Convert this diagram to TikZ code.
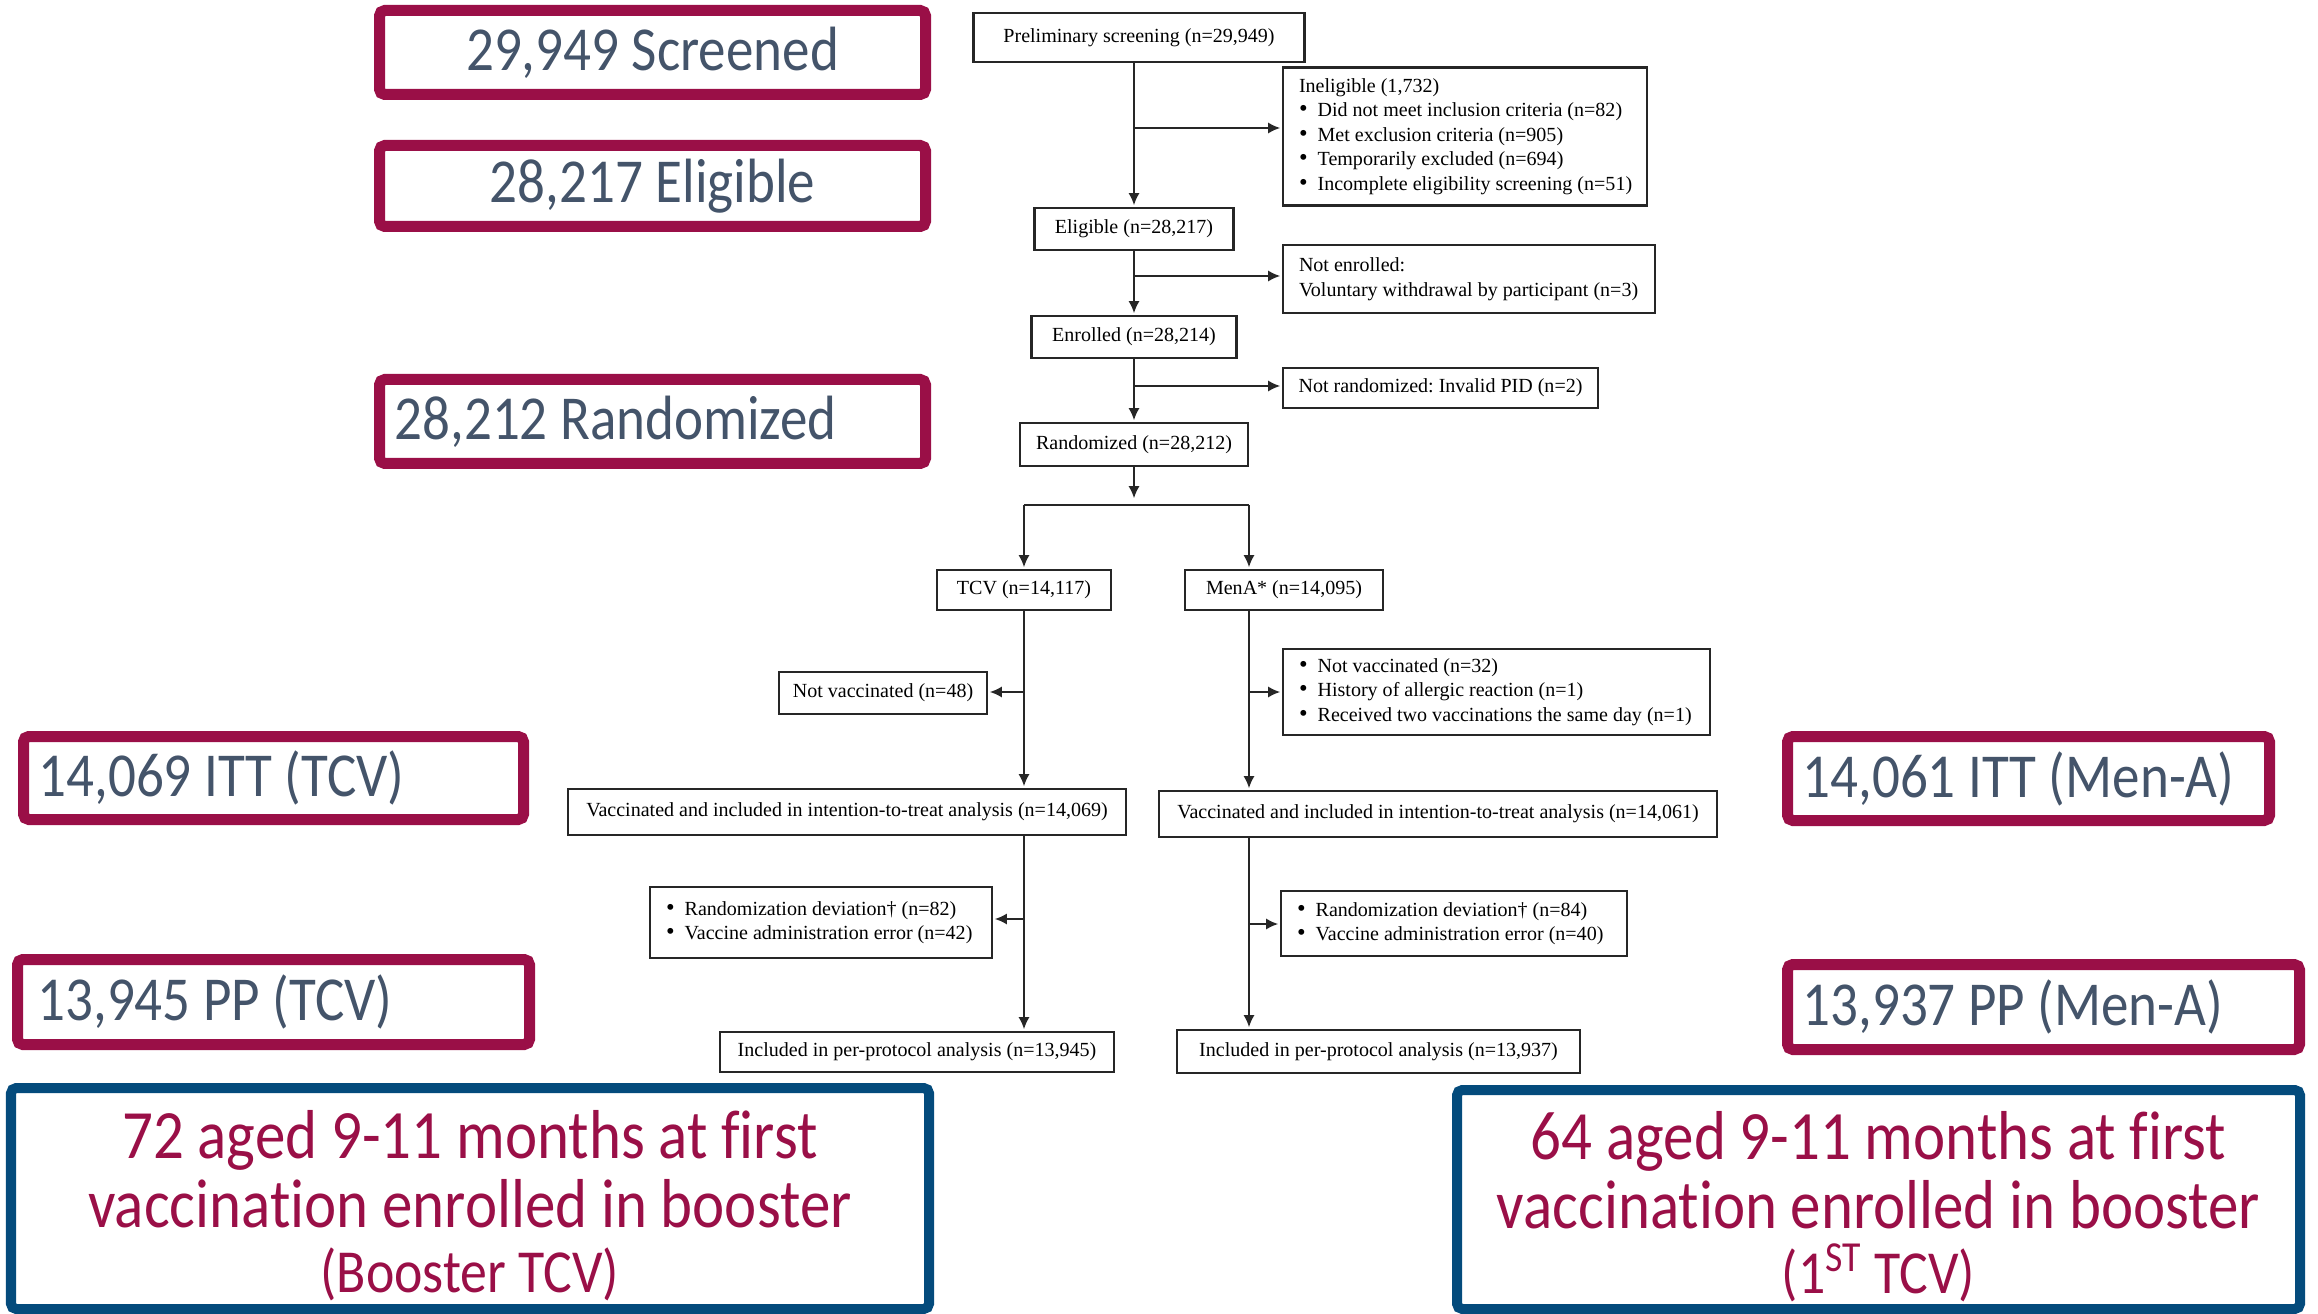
\documentclass[tikz,border=0pt]{standalone}
\usepackage{fontspec}
\usetikzlibrary{arrows.meta}
\newfontfamily\flowfont{Liberation Serif}
\newfontfamily\slidefont{Carlito}[FakeStretch=0.88, Ligatures=NoCommon]
\newcommand{\flowtxt}{\flowfont\fontsize{5.7}{7}\selectfont\frenchspacing}
\newcommand{\slidetxt}{\slidefont\fontsize{17.8}{20}\selectfont}
\newcommand{\boosttxt}{\slidefont\fontsize{19.7}{19.6}\selectfont}
\newcommand{\bul}[1]{\mbox{{\fontsize{7}{7}\selectfont\textbullet}\hspace{0.5em}#1}}
\definecolor{slidered}{HTML}{9A0F47}
\definecolor{slideblue}{HTML}{044B7C}
\definecolor{slate}{HTML}{44546A}

\begin{document}
\begin{tikzpicture}[
    flowbox/.style={draw=black!85, line width=0.6pt, font=\flowtxt, inner sep=0pt, fill=white},
    listbox/.style={flowbox, align=flush left, inner xsep=0.16cm},
    redbox/.style={draw=slidered, line width=0.11cm, rounded corners=1.5pt, font=\slidetxt, text=slate, inner sep=0pt},
    leftred/.style={redbox, align=flush left, inner xsep=0.15cm},
    bluebox/.style={draw=slideblue, line width=0.1cm, rounded corners=1.5pt, font=\boosttxt, text=slidered, align=center, inner sep=0pt},
    arr/.style={-{Latex[length=0.12cm,width=0.11cm]}, line width=0.45pt, black!85, shorten >=0.5pt},
    link/.style={line width=0.45pt, black!85}
]
    \useasboundingbox (0,0) rectangle (23.18,-13.14);

    % Screening column
    \node[flowbox, minimum width=3.31cm, minimum height=0.49cm] (prelim) at (11.39,-0.375) {Preliminary screening (n=29,949)};
    \node[listbox, text width=3.32cm, minimum height=1.38cm] (inel) at (14.65,-1.365)
        {Ineligible (1,732)\\
         \bul{Did not meet inclusion criteria (n=82)}\\
         \bul{Met exclusion criteria (n=905)}\\
         \bul{Temporarily excluded (n=694)}\\
         \bul{Incomplete eligibility screening (n=51)}};
    \node[flowbox, minimum width=1.99cm, minimum height=0.42cm] (elig) at (11.34,-2.29) {Eligible (n=28,217)};
    \node[listbox, text width=3.40cm, minimum height=0.68cm] (notenr) at (14.69,-2.79)
        {Not enrolled:\\\mbox{Voluntary withdrawal by participant (n=3)}};
    \node[flowbox, minimum width=2.05cm, minimum height=0.42cm] (enr) at (11.34,-3.37) {Enrolled (n=28,214)};
    \node[flowbox, minimum width=3.15cm, minimum height=0.40cm] (notrand) at (14.405,-3.88) {Not randomized: Invalid PID (n=2)};
    \node[flowbox, minimum width=2.28cm, minimum height=0.43cm] (rand) at (11.34,-4.445) {Randomized (n=28,212)};

    % Study arms
    \node[flowbox, minimum width=1.74cm, minimum height=0.40cm] (tcv) at (10.24,-5.90) {TCV (n=14,117)};
    \node[flowbox, minimum width=1.98cm, minimum height=0.40cm] (mena) at (12.84,-5.90) {MenA* (n=14,095)};
    \node[flowbox, minimum width=2.08cm, minimum height=0.42cm] (novacT) at (8.83,-6.93) {Not vaccinated (n=48)};
    \node[listbox, text width=3.95cm, minimum height=0.86cm] (novacM) at (14.965,-6.92)
        {\bul{Not vaccinated (n=32)}\\
         \bul{History of allergic reaction (n=1)}\\
         \bul{Received two vaccinations the same day (n=1)}};
    \node[flowbox, minimum width=5.58cm, minimum height=0.46cm] (ittT) at (8.47,-8.12) {Vaccinated and included in intention-to-treat analysis (n=14,069)};
    \node[flowbox, minimum width=5.58cm, minimum height=0.46cm] (ittM) at (14.38,-8.14) {Vaccinated and included in intention-to-treat analysis (n=14,061)};
    \node[listbox, text width=3.10cm, minimum height=0.71cm] (devT) at (8.21,-9.225)
        {\bul{Randomization deviation\textdagger\ (n=82)}\\
         \bul{Vaccine administration error (n=42)}};
    \node[listbox, text width=3.14cm, minimum height=0.65cm] (devM) at (14.54,-9.235)
        {\bul{Randomization deviation\textdagger\ (n=84)}\\
         \bul{Vaccine administration error (n=40)}};
    \node[flowbox, minimum width=3.94cm, minimum height=0.40cm] (ppT) at (9.17,-10.52) {Included in per-protocol analysis (n=13,945)};
    \node[flowbox, minimum width=4.03cm, minimum height=0.43cm] (ppM) at (13.785,-10.515) {Included in per-protocol analysis (n=13,937)};

    % Branch points
    \coordinate (b1) at (11.34,-1.28);
    \coordinate (b2) at (11.34,-2.76);
    \coordinate (b3) at (11.34,-3.86);
    \coordinate (split) at (11.34,-5.00);
    \coordinate (brL) at (10.24,-5.05);
    \coordinate (brR) at (12.49,-5.05);
    \coordinate (t1) at (10.24,-6.92);
    \coordinate (m1) at (12.49,-6.92);
    \coordinate (t2) at (10.24,-9.19);
    \coordinate (m2) at (12.49,-9.24);

    % Connectors
    \draw[arr] (prelim.south -| elig.north) -- (elig.north);
    \draw[arr] (b1) -- (b1 -| inel.west);
    \draw[arr] (elig.south) -- (enr.north);
    \draw[arr] (b2) -- (b2 -| notenr.west);
    \draw[arr] (enr.south) -- (rand.north);
    \draw[arr] (b3) -- (b3 -| notrand.west);
    \draw[arr] (rand.south) -- (split);
    \draw[link] (brL) -- (brR);
    \draw[arr] (brL) -- (brL |- tcv.north);
    \draw[arr] (brR) -- (brR |- mena.north);
    \draw[arr] (tcv.south) -- (tcv.south |- ittT.north);
    \draw[arr] (t1) -- (t1 -| novacT.east);
    \draw[arr] (brR |- mena.south) -- (brR |- ittM.north);
    \draw[arr] (m1) -- (m1 -| novacM.west);
    \draw[arr] (tcv.south |- ittT.south) -- (tcv.south |- ppT.north);
    \draw[arr] (t2) -- (t2 -| devT.east);
    \draw[arr] (brR |- ittM.south) -- (brR |- ppM.north);
    \draw[arr] (m2) -- (m2 -| devM.west);

    % Summary boxes
    \node[redbox, minimum width=5.46cm, minimum height=0.84cm] (scr) at (6.525,-0.525) {29,949 Screened};
    \node[redbox, minimum width=5.46cm, minimum height=0.81cm] (eli) at (6.525,-1.86) {28,217 Eligible};
    \node[leftred, text width=5.16cm, minimum height=0.84cm] (ran) at (6.525,-4.215) {28,212 Randomized};
    \node[leftred, text width=4.70cm, minimum height=0.83cm] (ittTsum) at (2.735,-7.78) {14,069 ITT (TCV)};
    \node[leftred, text width=4.72cm, inner xsep=0.2cm, minimum height=0.85cm] (ppTsum) at (2.735,-10.02) {13,945 PP (TCV)};
    \node[leftred, text width=4.52cm, minimum height=0.84cm] (ittMsum) at (20.285,-7.785) {14,061 ITT (Men-A)};
    \node[leftred, text width=4.82cm, minimum height=0.85cm] (ppMsum) at (20.435,-10.07) {13,937 PP (Men-A)};

    % Booster boxes
    \node[bluebox, minimum width=9.18cm, minimum height=2.21cm] (boostT) at (4.70,-11.985)
        {\rule{0pt}{0.9em}72 aged 9-11 months at first\\vaccination enrolled in booster\\[-1.1pt]{\fontsize{17.4}{18}\selectfont(Booster TCV)}};
    \node[bluebox, minimum width=8.43cm, minimum height=2.19cm] (boostM) at (18.785,-11.995)
        {\rule{0pt}{0.9em}64 aged 9-11 months at first\\vaccination enrolled in booster\\[-1.1pt]{\fontsize{17.4}{18}\selectfont(1\textsuperscript{ST} TCV)}};
\end{tikzpicture}
\end{document}
